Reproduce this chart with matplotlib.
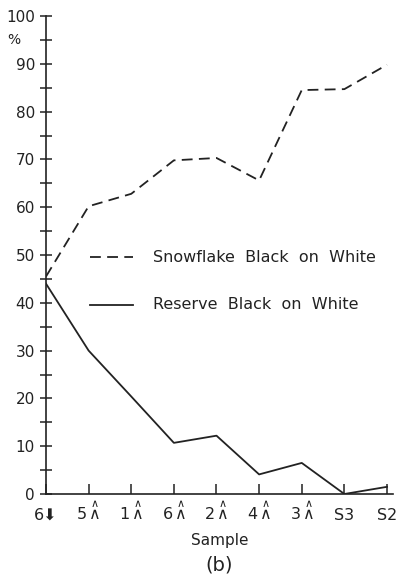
import matplotlib
matplotlib.use("Agg")
import matplotlib.pyplot as plt
from matplotlib.ticker import MultipleLocator

plt.rcParams['font.family'] = ['DejaVu Sans', 'Noto Sans CJK SC']
plt.rcParams['mathtext.fontset'] = 'dejavusans'

up = r"$\,\overset{\wedge}{\wedge}$"
samples = ["6⬇", "5" + up, "1" + up, "6" + up, "2" + up, "4" + up, "3" + up, "S3", "S2"]
snowflake = [45.5, 60.2, 62.8, 69.8, 70.3, 65.6, 84.5, 84.7, 89.8]
reserve = [44.0, 30.0, 20.4, 10.7, 12.2, 4.1, 6.5, 0.0, 1.5]
yticks = [0, 10, 20, 30, 40, 50, 60, 70, 80, 90, 100]

fig = plt.figure(figsize=(4.03, 5.82), dpi=100)
ax = fig.add_axes([46/403, 88/582, (393-46)/403, (494-16)/582])
x = list(range(len(samples)))
ax.plot(x, snowflake, color='#222222', lw=1.3, ls=(0, (6, 3.5)))
ax.plot(x, reserve, color='#222222', lw=1.3)

ax.set_xlim(0, 8 + 6/42.6)
ax.set_ylim(0, 100)
for s in ['top', 'right']:
    ax.spines[s].set_visible(False)
for s in ['left', 'bottom']:
    ax.spines[s].set_color('#222222')
    ax.spines[s].set_linewidth(1.2)
ax.set_yticks(yticks)
ax.set_yticklabels([str(v) for v in yticks])
ax.yaxis.set_minor_locator(MultipleLocator(5))
ax.tick_params(axis='y', which='both', direction='inout', length=9, width=1.1, colors='#222222', labelsize=11)
ax.set_xticks(x)
ax.set_xticklabels(samples, va='baseline')
ax.tick_params(axis='x', direction='in', length=7, width=1.1, colors='#222222', labelsize=11.5, pad=18.5)
ax.text(-0.75, 95, "%", fontsize=10, ha='center', va='center', color='#222222', transform=ax.transData, clip_on=False)

ax.set_xlabel("Sample", fontsize=11, color='#222222', va='center')
ax.xaxis.set_label_coords(0.5, -(541 - 494) / 478)
fig.text((46+393)/2/403, 1 - 565/582, "(b)", fontsize=14, ha='center', va='center', color='#222222')

# legend
ax.plot([1.03, 2.05], [49.5, 49.5], color='#222222', lw=1.3, ls=(0, (6, 3.5)))
ax.text(2.5, 49.5, "Snowflake  Black  on  White", fontsize=11.5, va='center', color='#222222')
ax.plot([1.03, 2.05], [39.6, 39.6], color='#222222', lw=1.3)
ax.text(2.5, 39.6, "Reserve  Black  on  White", fontsize=11.5, va='center', color='#222222')

fig.savefig("out.png", dpi=100)
